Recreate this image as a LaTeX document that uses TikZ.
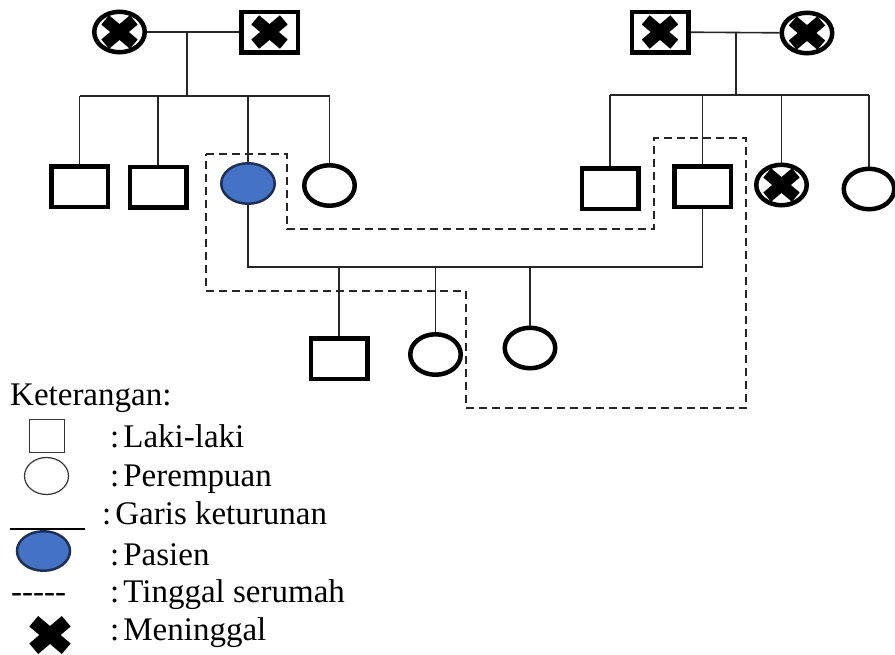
\documentclass[tikz,border=0pt]{standalone}
\usepackage{fontspec}
\setmainfont{Liberation Serif}
\usepackage{xcolor}
\usetikzlibrary{positioning,shapes.geometric}
\definecolor{patblue}{HTML}{4472C4}
\definecolor{patedge}{HTML}{1F2F56}
\tikzset{
  male/.style={rectangle, draw, line width=4.5pt, inner sep=0pt, minimum width=56.5pt, minimum height=40.5pt},
  female/.style={ellipse, draw, line width=4.5pt, inner sep=0pt, minimum width=50.5pt, minimum height=40.5pt},
  patient/.style={ellipse, draw=patedge, fill=patblue, line width=2.5pt, inner sep=0pt, minimum width=53.5pt, minimum height=40.5pt},
  dead/.style={path picture={
    \draw[line width=11pt*#1] ([shift={(-13pt*#1,-11pt*#1)}]path picture bounding box.center) -- ([shift={(13pt*#1,11pt*#1)}]path picture bounding box.center);
    \draw[line width=11pt*#1] ([shift={(-13pt*#1,11pt*#1)}]path picture bounding box.center) -- ([shift={(13pt*#1,-11pt*#1)}]path picture bounding box.center);
  }},
  dead/.default=1.1,
  line/.style={line width=1.6pt, black!85},
  house/.style={line width=1.6pt, dash pattern=on 8pt off 5pt, black!85},
  keybox/.style={draw=black!80, line width=1.2pt, inner sep=0pt},
  keytext/.style={anchor=base west, inner sep=0pt, font=\fontsize{33}{38}\selectfont}
}
\begin{document}
\begin{tikzpicture}[x=1pt, y=-1pt]
  \useasboundingbox (0,0) rectangle (895,654);
  \node[female, dead] (gm1) at (119.5,32) {};
  \node[male, dead] (gf1) at (269.5,32) {};
  \node[male, dead] (gf2) at (660,32) {};
  \node[female, dead] (gm2) at (807,33) {};
  \node[male] (s1) at (79.5,186.5) {};
  \node[male] (s2) at (158,187) {};
  \node[patient] (pat) at (248,183.5) {};
  \node[female] (d1) at (329.5,185.5) {};
  \node[male] (s3) at (610,188.5) {};
  \node[male] (s4) at (702.5,186.5) {};
  \node[female, dead] (d2) at (781.5,185) {};
  \node[female] (d3) at (869,189) {};
  \node[male] (c1) at (339,358.5) {};
  \node[female] (c2) at (435.5,354.5) {};
  \node[female] (c3) at (530,348) {};
  \coordinate (m1) at (187,32);
  \coordinate (b1) at (187,96);
  \coordinate (m2) at (736,32);
  \coordinate (b2) at (736,95);
  \coordinate (mb) at (435,267);
  \draw[line] (gm1) -- (gf1);
  \draw[line] (m1) -- (b1);
  \draw[line] (s1.north |- b1) -- (d1.north |- b1);
  \foreach \k in {s1,s2,pat,d1}
    \draw[line] (\k.north) -- (\k.north |- b1);
  \draw[line] (gf2) -- (gm2);
  \draw[line] (m2) -- (b2);
  \draw[line] (s3.north |- b2) -- (d3.north |- b2);
  \foreach \k in {s3,s4,d2,d3}
    \draw[line] (\k.north) -- (\k.north |- b2);
  \draw[line] (pat.south) |- (mb) -| (s4.south);
  \foreach \k in {c1,c2,c3}
    \draw[line] (\k.north) -- (\k.north |- mb);
  \draw[house] (206,154) -- (287,154) -- (287,229) -- (654,229) -- (654,138) -- (746,138)
    -- (746,408) -- (466,408) -- (466,291) -- (206,291) -- cycle;
  \node[keytext] (key) at (10,405) {Keterangan:};
  \node[keybox, minimum width=35pt, minimum height=33pt] (kmale) at (47,436) {};
  \node[keybox, ellipse, minimum width=44pt, minimum height=37pt] (kfemale) at (46.5,476) {};
  \coordinate (kl1) at (10,529);
  \coordinate (kl2) at (85,529);
  \draw[line width=1.4pt] (kl1) -- (kl2);
  \node[patient, minimum width=53pt, minimum height=39.5pt] (kpat) at (43.5,551) {};
  \node[keytext] (kdash) at (11,602) {-{}-{}-{}-{}-};
  \node[fill=white, inner sep=0pt, minimum width=52pt, minimum height=46pt, dead=1.25] (kdead) at (50,635) {};
  \node[keytext] at (110,447) {:\kern4pt Laki-laki};
  \node[keytext] at (110,486) {:\kern4pt Perempuan};
  \node[keytext] at (102,524) {:\kern4pt Garis keturunan};
  \node[keytext] at (110,565) {:\kern4pt Pasien};
  \node[keytext] at (110,602) {:\kern4pt Tinggal serumah};
  \node[keytext] at (110,640) {:\kern4pt Meninggal};
\end{tikzpicture}
\end{document}
